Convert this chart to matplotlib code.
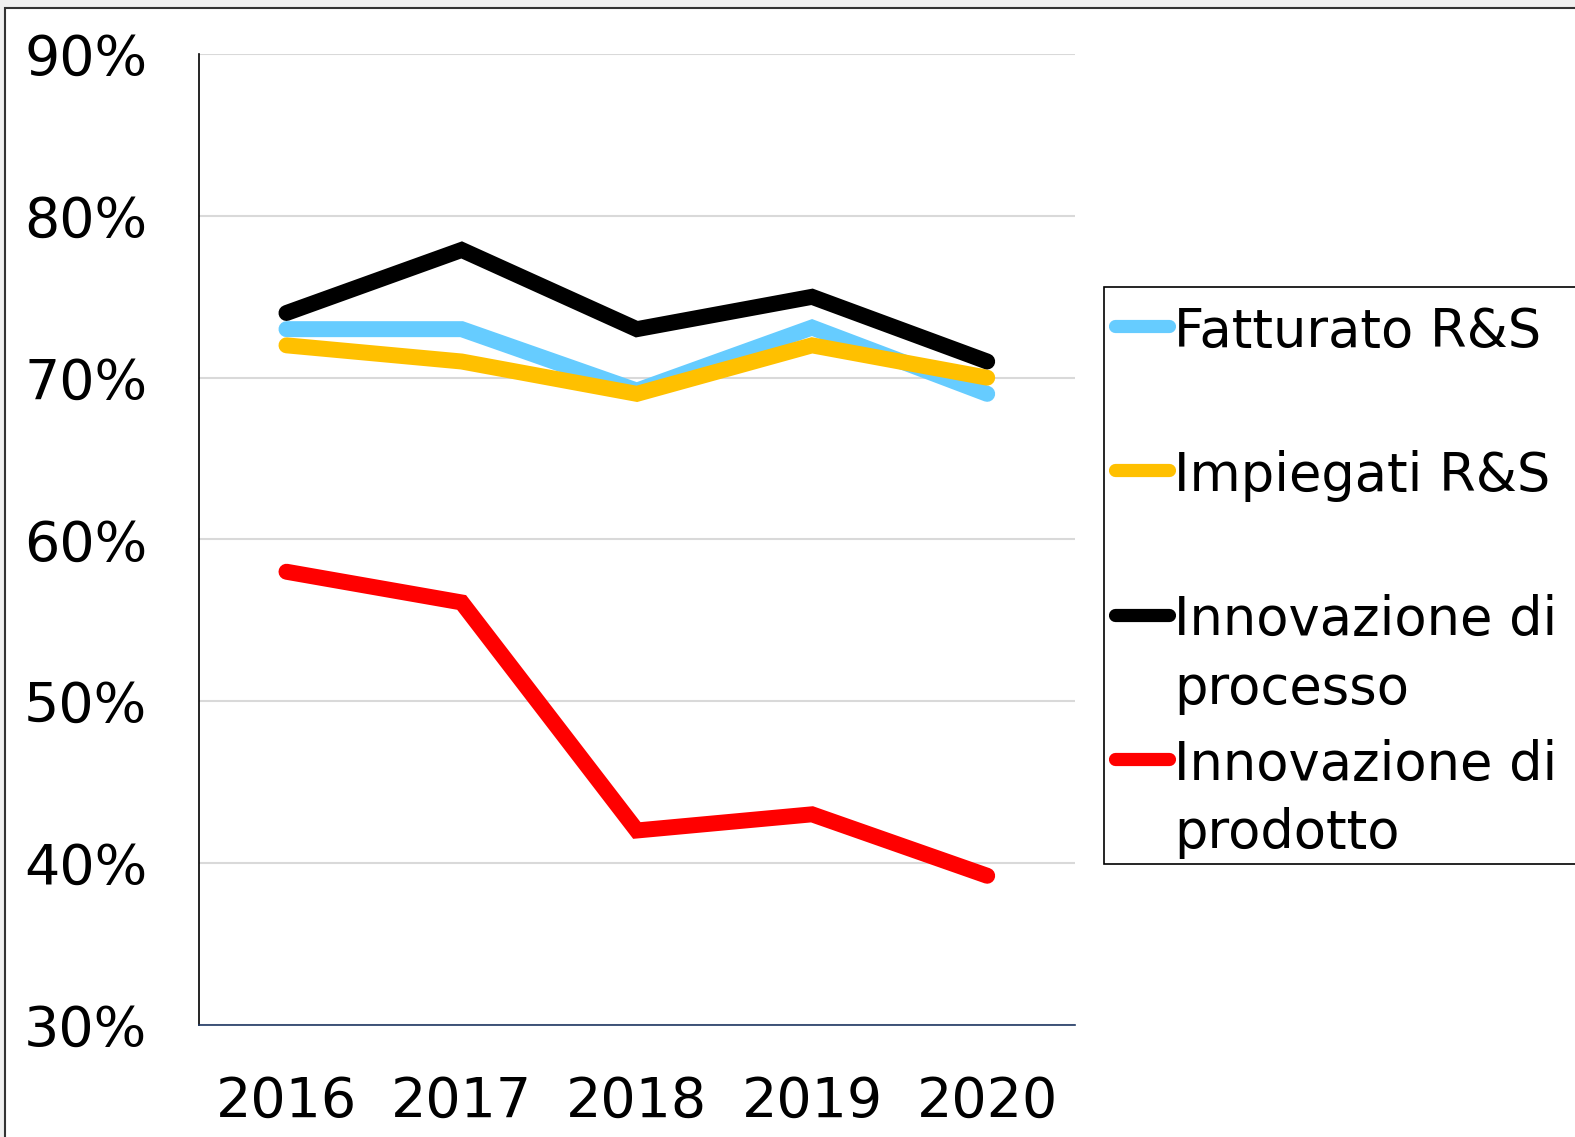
import matplotlib
matplotlib.use("Agg")
import matplotlib.pyplot as plt
from matplotlib.patches import Rectangle
from matplotlib.lines import Line2D

# data
years = ["2016", "2017", "2018", "2019", "2020"]
fatturato = [73, 73, 69.2, 73.1, 69]
impiegati = [72, 71, 69, 72, 70]
processo = [74, 77.9, 73, 75, 71]
prodotto = [58, 56.1, 42, 43, 39.2]

labels = ["Fatturato R&S", "Impiegati R&S", "Innovazione di\nprocesso", "Innovazione di\nprodotto"]
colors = ["#66CCFF", "#FFC000", "#000000", "#FF0000"]
yticks = [30, 40, 50, 60, 70, 80, 90]

W, H = 1575, 1137
s = 1575 / 1568  # pixel positions were measured on the shrunk preview
fig = plt.figure(figsize=(W / 100, H / 100), dpi=100)
fig.patch.set_facecolor("#f0f0f0")

# white chart area with thin frame
fig.add_artist(Rectangle((5 / W, -0.05), 1.2, (H - 8) / H + 0.05, transform=fig.transFigure,
                         facecolor="white", edgecolor="#333333", lw=1.5, zorder=0))

left, right, top, bottom = 198 * s, 1070 * s, 54 * s, 1020 * s
ax = fig.add_axes([left / W, 1 - bottom / H, (right - left) / W, (bottom - top) / H])
ax.set_facecolor("none")

x = range(len(years))
for vals, c, lab in zip([fatturato, impiegati, processo, prodotto], colors, labels):
    ax.plot(x, vals, color=c, lw=11.5, solid_capstyle="round", solid_joinstyle="miter", label=lab)

ax.set_xlim(-0.5, len(years) - 0.5)
ax.set_ylim(30, 90)
ax.set_xticks(list(x))
ax.set_xticklabels(years)
ax.set_yticks(yticks)
ax.set_yticklabels([f"{v}%" for v in yticks])
ax.tick_params(axis="both", length=0, labelsize=40)
ax.tick_params(axis="y", pad=37)
ax.tick_params(axis="x", pad=36)
ax.grid(axis="y", color="#d9d9d9", lw=1.5)
ax.set_axisbelow(True)
for sp in ["top", "right"]:
    ax.spines[sp].set_visible(False)
ax.spines["left"].set_color("black")
ax.spines["left"].set_linewidth(1.2)
ax.spines["bottom"].set_color("#1f3864")
ax.spines["bottom"].set_linewidth(1.2)

# legend drawn by hand so the handle sits on the first text line
fig.add_artist(Rectangle((1099 * s / W, 1 - 860 * s / H), 0.5, (860 - 286) * s / H,
                         transform=fig.transFigure, facecolor="white", edgecolor="black",
                         lw=1.2, zorder=2))
entry_y = [325, 468, 612, 756]
for lab, c, ypx in zip(labels, colors, entry_y):
    yf = 1 - ypx * s / H
    fig.add_artist(Line2D([1110 * s / W, 1164 * s / W], [yf, yf], transform=fig.transFigure,
                          color=c, lw=9.5, solid_capstyle="round", zorder=3))
    for k, line in enumerate(lab.split("\n")):
        fig.text(1169 * s / W, 1 - (ypx + 68 * k) * s / H, line, fontsize=38,
                 va="center_baseline", ha="left", zorder=3)

plt.savefig("out.png", dpi=100, facecolor=fig.get_facecolor())
